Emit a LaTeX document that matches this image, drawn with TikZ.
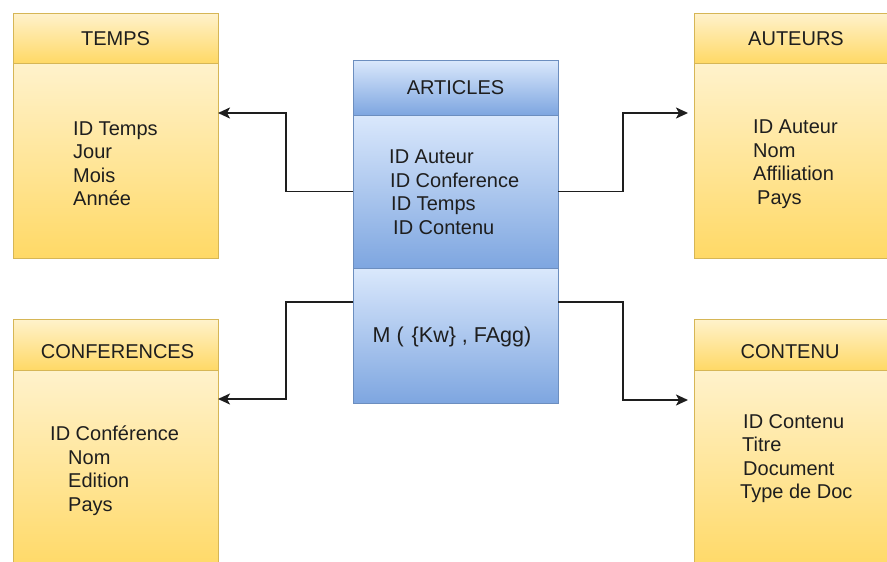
\documentclass[tikz,border=0pt]{standalone}
\usepackage{fontspec}
\setmainfont{Liberation Sans}
\usetikzlibrary{arrows.meta}

\definecolor{ylwLight}{HTML}{FFF2CC}
\definecolor{ylwDark}{HTML}{FFD966}
\definecolor{ylwLine}{HTML}{D6B656}
\definecolor{bluLight}{HTML}{DAE8FC}
\definecolor{bluDark}{HTML}{7EA6E0}
\definecolor{bluLine}{HTML}{6C8EBF}
\definecolor{ink}{HTML}{1E1E1E}

\tikzset{
  part/.style={line width=1pt, minimum width=205pt, anchor=north west,
    inner sep=0pt, outer sep=0pt},
  ypart/.style={part, draw=ylwLine, top color=ylwLight, bottom color=ylwDark},
  bpart/.style={part, draw=bluLine, top color=bluLight, bottom color=bluDark},
  txt/.style={font=\fontsize{20}{23.5}\selectfont, text=ink, inner sep=0pt},
  title/.style={txt},
  fields/.style={txt, align=left, anchor=west},
  conn/.style={line width=1.8pt, draw=ink,
    -{Stealth[length=12pt,width=11pt,inset=3pt]}}
}

\begin{document}
\begin{tikzpicture}[x=1pt, y=-1pt]
  \useasboundingbox (0,0) rectangle (887,562);
  \fill[white] (0,0) rectangle (887,562);
  \clip (0,0) rectangle (887,562);

  % dimension tables (yellow)
  \node[ypart, minimum height=50pt]  (tempsh) at (13,13) {};
  \node[ypart, minimum height=195pt] (tempsb) at (13,63) {};
  \node[ypart, minimum height=50pt]  (auth)   at (694,13) {};
  \node[ypart, minimum height=195pt] (autb)   at (694,63) {};
  \node[ypart, minimum height=51pt]  (confh)  at (13,319) {};
  \node[ypart, minimum height=200pt] (confb)  at (13,370) {};
  \node[ypart, minimum height=51pt]  (conth)  at (694,319) {};
  \node[ypart, minimum height=200pt] (contb)  at (694,370) {};

  % fact table (blue)
  \node[bpart, minimum height=55pt]  (arth) at (353,60) {};
  \node[bpart, minimum height=153pt] (artb) at (353,115) {};
  \node[bpart, minimum height=135pt] (artm) at (353,268) {};

  % titles
  \node[title] (tTemps) at (115.5,38.5) {TEMPS};
  \node[title] (tAut)   at (796,39)    {AUTEURS};
  \node[title] (tConf)  at (117.5,352) {CONFERENCES};
  \node[title] (tCont)  at (790,352)   {CONTENU};
  \node[title] (tArt)   at (455.5,88)  {ARTICLES};

  % attributes
  \node[fields] (fTemps) at (73,163.5)
    {ID Temps\\Jour\\Mois\\Année};
  \node[fields] (fAut) at (753,164)
    {ID Auteur\\Nom\\Affiliation\\\hspace*{4pt}Pays};
  \node[fields] (fConf) at (50,470.5)
    {ID Conférence\\\hspace*{18pt}Nom\\\hspace*{18pt}Edition\\\hspace*{18pt}Pays};
  \node[fields] (fCont) at (740,458.5)
    {\hspace*{3pt}ID Contenu\\\hspace*{2pt}Titre\\\hspace*{3pt}Document\\Type de Doc};
  \node[fields] (fArt) at (389,192)
    {ID Auteur\\\hspace*{1pt}ID Conference\\\hspace*{2pt}ID Temps\\\hspace*{4pt}ID Contenu};
  \node[txt, font=\fontsize{21.5}{25}\selectfont] (fMes) at (452,337)
    {M ( \hspace{2pt}\{Kw\} , FAgg)};

  % bend points of the connectors
  \coordinate (bendTL)  at (286,113);
  \coordinate (bendTR)  at (623,113);
  \coordinate (bendBL1) at (286,302);
  \coordinate (bendBL2) at (286,399);
  \coordinate (bendBR1) at (623,302);
  \coordinate (bendBR2) at (623,400);

  % connectors
  \draw[conn] (artb.west) -| (bendTL) -- (tempsb.east |- bendTL);
  \draw[conn, shorten >=6pt] (artb.east) -| (bendTR) -- (autb.west |- bendTR);
  \draw[conn] (artm.west |- bendBL1) -- (bendBL1) -- (bendBL2) -- (confb.east |- bendBL2);
  \draw[conn, shorten >=6pt] (artm.east |- bendBR1) -- (bendBR1) -- (bendBR2) -- (contb.west |- bendBR2);
\end{tikzpicture}
\end{document}
